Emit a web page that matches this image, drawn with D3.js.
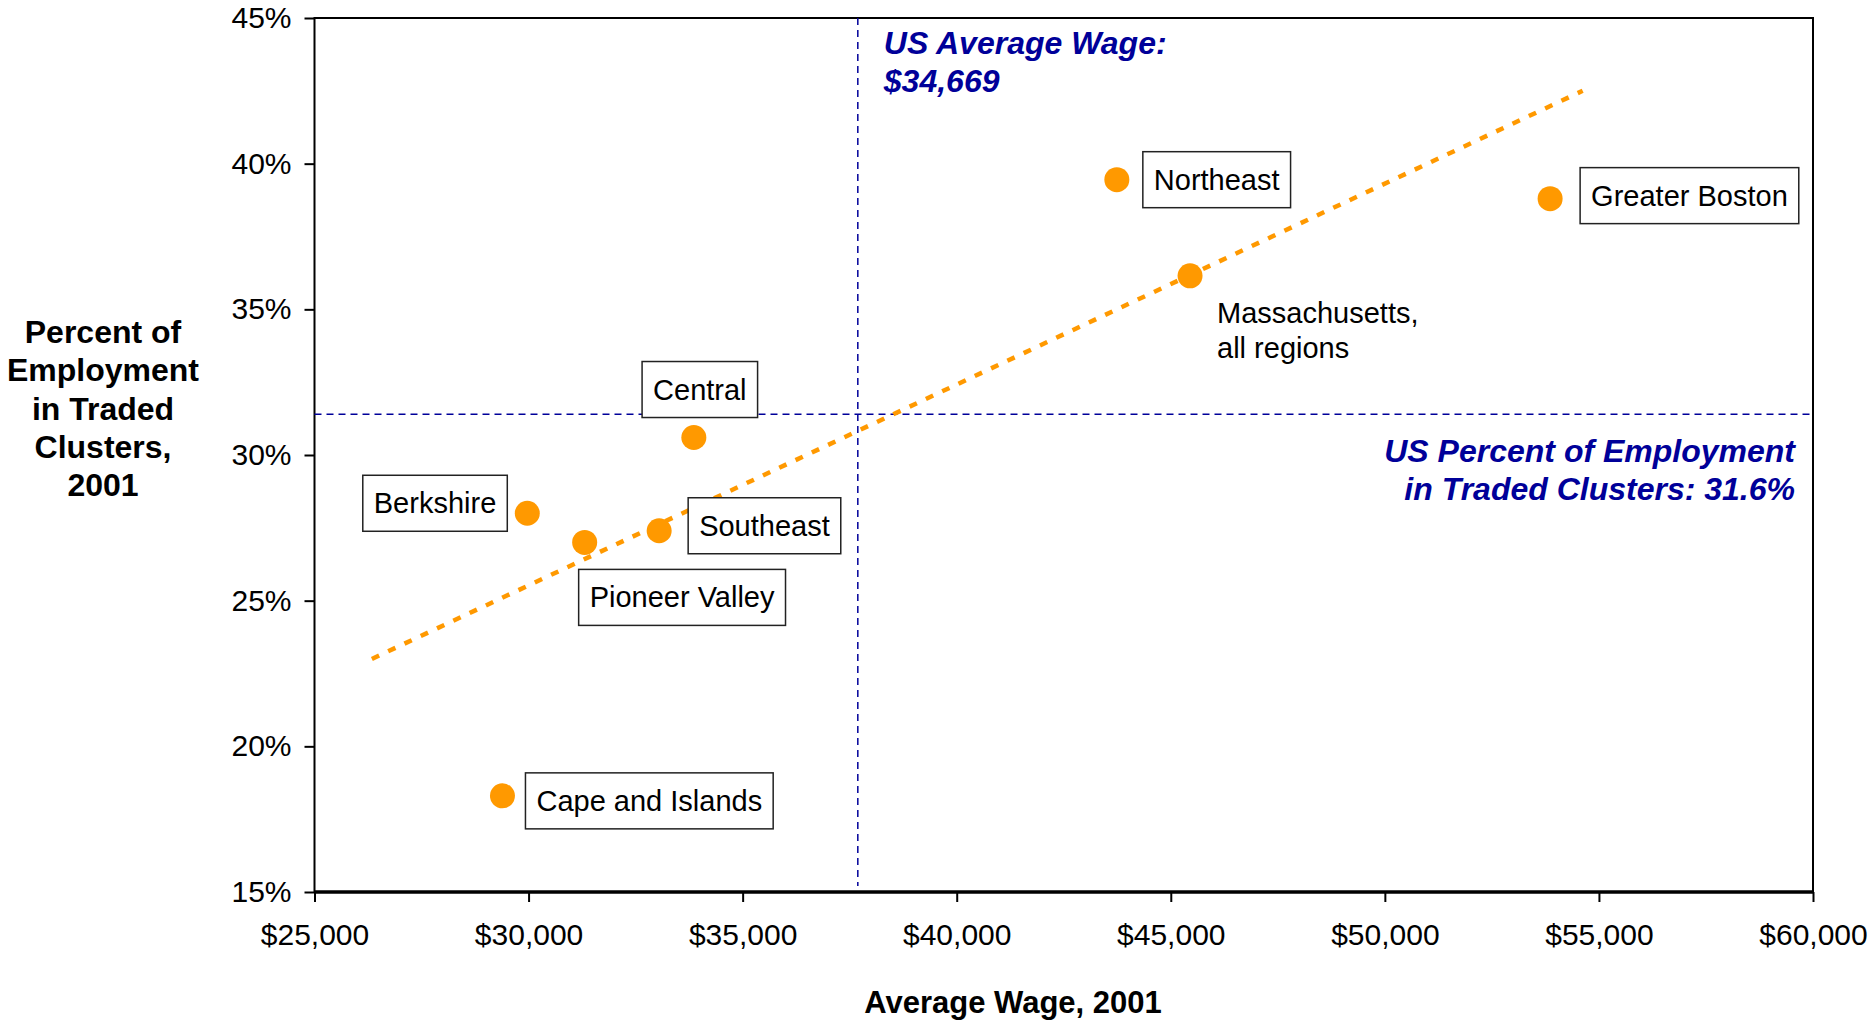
<!DOCTYPE html>
<html>
<head>
<meta charset="utf-8">
<script src="https://cdn.jsdelivr.net/npm/d3@7"></script>
<style>
  body { margin: 0; background: #fff; }
  svg { font-family: "Liberation Sans", Arial, sans-serif; }
  .axis text { font-size: 30px; fill: #000; }
  .axis line { stroke: #000; stroke-width: 2; }
  .axis path { display: none; }
</style>
</head>
<body>
<div id="chart"></div>
<script>
// regions and their values (average wage, % of employment in traded clusters)
var regions = ["Northeast", "Greater Boston", "Massachusetts, all regions", "Central",
               "Berkshire", "Southeast", "Pioneer Valley", "Cape and Islands"];
var wages = [43740, 53860, 45450, 33860, 29970, 33050, 31310, 29390];
var tradedPct = [39.45, 38.8, 36.15, 30.6, 28.0, 27.4, 27.0, 18.3];

// linear trend (start and end)
var trendWage = [26340, 54620];
var trendPct = [23.0, 42.5];

// US reference lines as drawn
var usWageLine = 37690;
var usPctLine = 31.4;

var xTicks = [25000, 30000, 35000, 40000, 45000, 50000, 55000, 60000];
var yTicks = [15, 20, 25, 30, 35, 40, 45];

var width = 1875, height = 1020;
var margin = { left: 314.5, right: 62, top: 18, bottom: 128 };
var plotW = width - margin.left - margin.right,
    plotH = height - margin.top - margin.bottom;

var orange = "#ff9900", navy = "#000099";

// where each label box goes, relative to its point
var placement = {
  "Northeast":        { edge: "left",  dx: 26,  dy: -28 },
  "Greater Boston":   { edge: "left",  dx: 30,  dy: -31 },
  "Central":          { edge: "mid",   dx: 6,   dy: -76 },
  "Berkshire":        { edge: "right", dx: -20, dy: -38 },
  "Southeast":        { edge: "left",  dx: 29,  dy: -33 },
  "Pioneer Valley":   { edge: "left",  dx: -6,  dy: 27 },
  "Cape and Islands": { edge: "left",  dx: 23,  dy: -23 }
};

var svg = d3.select("#chart").append("svg")
    .attr("width", width)
    .attr("height", height);

var g = svg.append("g")
    .attr("transform", "translate(" + margin.left + "," + margin.top + ")");

var x = d3.scaleLinear().domain([25000, 60000]).range([0, plotW]);
var y = d3.scaleLinear().domain([15, 45]).range([plotH, 0]);

// axes
g.append("g")
  .attr("class", "axis")
  .attr("transform", "translate(0," + plotH + ")")
  .call(d3.axisBottom(x).tickValues(xTicks).tickFormat(d3.format("$,")).tickSize(10).tickPadding(22));

g.append("g")
  .attr("class", "axis")
  .call(d3.axisLeft(y).tickValues(yTicks).tickFormat(function(d) { return d + "%"; }).tickSize(10).tickPadding(13));

// plot frame
g.append("rect")
  .attr("width", plotW)
  .attr("height", plotH)
  .attr("fill", "none")
  .attr("stroke", "#000")
  .attr("stroke-width", 2);

g.append("line")
  .attr("x1", 0).attr("x2", plotW)
  .attr("y1", plotH).attr("y2", plotH)
  .attr("stroke", "#000").attr("stroke-width", 3.5);

// US reference lines
g.append("line")
  .attr("x1", x(usWageLine)).attr("x2", x(usWageLine))
  .attr("y1", 0).attr("y2", plotH - 6)
  .attr("stroke", navy).attr("stroke-width", 1.5)
  .attr("stroke-dasharray", "7,5");

g.append("line")
  .attr("x1", 0).attr("x2", plotW)
  .attr("y1", y(usPctLine)).attr("y2", y(usPctLine))
  .attr("stroke", navy).attr("stroke-width", 1.5)
  .attr("stroke-dasharray", "7,5");

// trend line
var trendLine = d3.line()
    .x(function(d) { return x(d[0]); })
    .y(function(d) { return y(d[1]); });

g.append("path")
  .attr("d", trendLine(d3.zip(trendWage, trendPct)))
  .attr("fill", "none")
  .attr("stroke", orange)
  .attr("stroke-width", 4.5)
  .attr("stroke-dasharray", "8,10");

var points = regions.map(function(r, i) {
  return { name: r, wage: wages[i], pct: tradedPct[i] };
});

// labels with boxes
var labels = g.append("g").selectAll("g")
  .data(points.filter(function(d) { return placement[d.name]; }))
  .enter().append("g");

labels.each(function(d) {
  var p = placement[d.name];
  var grp = d3.select(this);
  var rect = grp.append("rect");
  var txt = grp.append("text")
      .attr("font-size", 29)
      .attr("fill", "#000")
      .text(d.name);
  var tw = txt.node().getComputedTextLength();
  var bw = tw + 22, bh = 56;
  var left = x(d.wage) + p.dx;
  if (p.edge === "right") left = x(d.wage) + p.dx - bw;
  if (p.edge === "mid") left = x(d.wage) + p.dx - bw / 2;
  var top = y(d.pct) + p.dy;
  rect.attr("x", left).attr("y", top)
      .attr("width", bw).attr("height", bh)
      .attr("fill", "#fff")
      .attr("stroke", "#222")
      .attr("stroke-width", 1.5);
  txt.attr("x", left + 11).attr("y", top + bh / 2 + 10);
});

// points
g.append("g").selectAll("circle")
  .data(points).enter().append("circle")
  .attr("cx", function(d) { return x(d.wage); })
  .attr("cy", function(d) { return y(d.pct); })
  .attr("r", 12.5)
  .attr("fill", orange);

// Massachusetts label without box
var ma = points[2];
g.append("text")
  .attr("y", y(ma.pct) + 47)
  .attr("font-size", 29)
  .selectAll("tspan")
  .data(["Massachusetts,", "all regions"]).enter().append("tspan")
  .attr("x", x(ma.wage) + 27)
  .attr("dy", function(d, i) { return i ? 35 : 0; })
  .text(function(d) { return d; });

// US annotations
g.append("text")
  .attr("y", 36)
  .attr("font-size", 32)
  .attr("font-weight", "bold")
  .attr("font-style", "italic")
  .attr("fill", navy)
  .selectAll("tspan")
  .data(["US Average Wage:", "$34,669"]).enter().append("tspan")
  .attr("x", x(usWageLine) + 26)
  .attr("dy", function(d, i) { return i ? 38 : 0; })
  .text(function(d) { return d; });

g.append("text")
  .attr("y", y(usPctLine) + 48)
  .attr("font-size", 32)
  .attr("font-weight", "bold")
  .attr("font-style", "italic")
  .attr("fill", navy)
  .attr("text-anchor", "end")
  .selectAll("tspan")
  .data(["US Percent of Employment", "in Traded Clusters: 31.6%"]).enter().append("tspan")
  .attr("x", plotW - 18)
  .attr("dy", function(d, i) { return i ? 38 : 0; })
  .text(function(d) { return d; });

// axis titles
svg.append("text")
  .attr("x", 1013)
  .attr("y", 1013)
  .attr("text-anchor", "middle")
  .attr("font-size", 31)
  .attr("font-weight", "bold")
  .text("Average Wage, 2001");

svg.append("text")
  .attr("text-anchor", "middle")
  .attr("font-size", 32)
  .attr("font-weight", "bold")
  .selectAll("tspan")
  .data(["Percent of", "Employment", "in Traded", "Clusters,", "2001"]).enter().append("tspan")
  .attr("x", 103)
  .attr("y", 343)
  .attr("y", function(d, i) { return 343 + i * 38.3; })
  .text(function(d) { return d; });
</script>
</body>
</html>
